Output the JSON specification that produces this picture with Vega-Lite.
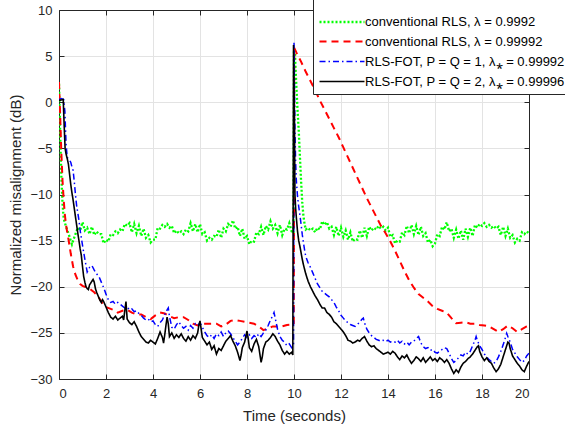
{
"$schema":"https://vega.github.io/schema/vega-lite/v6.json",
"width":470,"height":369,
"autosize":{"type":"none"},
"padding":{"left":59,"top":10,"right":36,"bottom":52},
"background":"white",
"config":{"font":"Liberation Sans","view":{"stroke":null},
"axis":{"domainColor":"#262626","tickColor":"#262626","labelColor":"#262626","titleColor":"#262626","labelFontSize":13,"titleFontSize":15,"titleFontWeight":"normal","gridColor":"#e3e3e3","tickSize":-5,"domainWidth":1,"tickWidth":1}},
"data":{"values":[
{"s":"g","t":0,"v":2.0},{"s":"g","t":0.03,"v":-1},{"s":"g","t":0.06,"v":-4.5},{"s":"g","t":0.1,"v":-8.0},{"s":"g","t":0.15,"v":-11.0},{"s":"g","t":0.2,"v":-12.6},{"s":"g","t":0.3,"v":-13.5},{"s":"g","t":0.4,"v":-14.2},{"s":"g","t":0.5,"v":-15.0},{"s":"g","t":0.55,"v":-15.4},{"s":"g","t":0.6,"v":-15.0},{"s":"g","t":0.7,"v":-14.3},{"s":"g","t":0.8,"v":-13.6},{"s":"g","t":0.9,"v":-13.9},
{"s":"g","t":1.0,"v":-13.0},{"s":"g","t":1.1,"v":-13.9},{"s":"g","t":1.2,"v":-13.6},{"s":"g","t":1.3,"v":-14.3},{"s":"g","t":1.4,"v":-13.5},{"s":"g","t":1.5,"v":-14.4},{"s":"g","t":1.6,"v":-14.0},{"s":"g","t":1.7,"v":-14.3},{"s":"g","t":1.8,"v":-14.3},{"s":"g","t":1.9,"v":-15.3},
{"s":"g","t":2.0,"v":-14.9},{"s":"g","t":2.1,"v":-15.1},{"s":"g","t":2.2,"v":-14.3},{"s":"g","t":2.3,"v":-14.4},{"s":"g","t":2.4,"v":-14.0},{"s":"g","t":2.5,"v":-14.2},{"s":"g","t":2.6,"v":-13.8},{"s":"g","t":2.7,"v":-14.0},{"s":"g","t":2.8,"v":-13.2},{"s":"g","t":2.9,"v":-13.4},
{"s":"g","t":3.0,"v":-13.1},{"s":"g","t":3.1,"v":-14.1},{"s":"g","t":3.2,"v":-13.2},{"s":"g","t":3.3,"v":-14.2},{"s":"g","t":3.4,"v":-13.4},{"s":"g","t":3.5,"v":-14.5},{"s":"g","t":3.6,"v":-13.7},{"s":"g","t":3.7,"v":-14.7},{"s":"g","t":3.8,"v":-14.4},{"s":"g","t":3.9,"v":-15.2},
{"s":"g","t":4.0,"v":-14.9},{"s":"g","t":4.1,"v":-14.9},{"s":"g","t":4.2,"v":-13.6},{"s":"g","t":4.3,"v":-13.7},{"s":"g","t":4.4,"v":-13.3},{"s":"g","t":4.5,"v":-13.5},{"s":"g","t":4.6,"v":-13.2},{"s":"g","t":4.7,"v":-13.6},{"s":"g","t":4.8,"v":-13.4},{"s":"g","t":4.9,"v":-14.2},
{"s":"g","t":5.0,"v":-13.9},{"s":"g","t":5.1,"v":-14.2},{"s":"g","t":5.2,"v":-14.0},{"s":"g","t":5.3,"v":-14.3},{"s":"g","t":5.4,"v":-13.8},{"s":"g","t":5.5,"v":-14.0},{"s":"g","t":5.6,"v":-13.1},{"s":"g","t":5.7,"v":-14.0},{"s":"g","t":5.8,"v":-13.2},{"s":"g","t":5.9,"v":-14.1},
{"s":"g","t":6.0,"v":-13.2},{"s":"g","t":6.1,"v":-14.3},{"s":"g","t":6.2,"v":-14.1},{"s":"g","t":6.3,"v":-15.0},{"s":"g","t":6.4,"v":-14.7},{"s":"g","t":6.5,"v":-14.9},{"s":"g","t":6.6,"v":-14.5},{"s":"g","t":6.7,"v":-14.6},{"s":"g","t":6.8,"v":-13.8},{"s":"g","t":6.9,"v":-14.7},
{"s":"g","t":7.0,"v":-13.7},{"s":"g","t":7.1,"v":-14.0},{"s":"g","t":7.2,"v":-13.2},{"s":"g","t":7.3,"v":-13.5},{"s":"g","t":7.4,"v":-12.8},{"s":"g","t":7.5,"v":-13.7},{"s":"g","t":7.6,"v":-13.5},{"s":"g","t":7.7,"v":-14.5},{"s":"g","t":7.8,"v":-13.7},{"s":"g","t":7.9,"v":-14.8},
{"s":"g","t":8.0,"v":-14.5},{"s":"g","t":8.1,"v":-15.4},{"s":"g","t":8.2,"v":-15.0},{"s":"g","t":8.3,"v":-15.1},{"s":"g","t":8.4,"v":-14.1},{"s":"g","t":8.5,"v":-14.3},{"s":"g","t":8.6,"v":-13.5},{"s":"g","t":8.7,"v":-14.4},{"s":"g","t":8.8,"v":-13.4},{"s":"g","t":8.9,"v":-13.8},
{"s":"g","t":9.0,"v":-12.9},{"s":"g","t":9.1,"v":-13.7},{"s":"g","t":9.2,"v":-13.3},{"s":"g","t":9.3,"v":-14.2},{"s":"g","t":9.4,"v":-13.3},{"s":"g","t":9.5,"v":-14.4},{"s":"g","t":9.6,"v":-13.7},{"s":"g","t":9.7,"v":-13.8},{"s":"g","t":9.8,"v":-13.1},{"s":"g","t":9.9,"v":-14.0},
{"s":"g","t":9.98,"v":-14.2},{"s":"g","t":10.0,"v":5.7},{"s":"g","t":10.04,"v":5.5},{"s":"g","t":10.06,"v":4.0},{"s":"g","t":10.1,"v":1.8},{"s":"g","t":10.15,"v":-0.8},{"s":"g","t":10.2,"v":-3.0},{"s":"g","t":10.25,"v":-5.8},{"s":"g","t":10.3,"v":-8.5},{"s":"g","t":10.35,"v":-10.8},{"s":"g","t":10.4,"v":-12.3},{"s":"g","t":10.45,"v":-13.2},{"s":"g","t":10.5,"v":-13.8},
{"s":"g","t":10.6,"v":-13.6},{"s":"g","t":10.7,"v":-13.9},{"s":"g","t":10.8,"v":-13.7},{"s":"g","t":10.9,"v":-14.1},{"s":"g","t":11.0,"v":-13.6},{"s":"g","t":11.1,"v":-13.8},{"s":"g","t":11.2,"v":-12.9},{"s":"g","t":11.3,"v":-13.3},{"s":"g","t":11.4,"v":-13.0},{"s":"g","t":11.5,"v":-13.7},
{"s":"g","t":11.6,"v":-13.5},{"s":"g","t":11.7,"v":-14.4},{"s":"g","t":11.8,"v":-13.5},{"s":"g","t":11.9,"v":-14.5},{"s":"g","t":12.0,"v":-13.6},{"s":"g","t":12.1,"v":-14.6},{"s":"g","t":12.2,"v":-13.9},{"s":"g","t":12.3,"v":-14.9},{"s":"g","t":12.4,"v":-14.1},{"s":"g","t":12.5,"v":-15.1},
{"s":"g","t":12.6,"v":-14.8},{"s":"g","t":12.7,"v":-14.9},{"s":"g","t":12.8,"v":-13.9},{"s":"g","t":12.9,"v":-14.7},{"s":"g","t":13.0,"v":-13.6},{"s":"g","t":13.1,"v":-14.5},{"s":"g","t":13.2,"v":-13.5},{"s":"g","t":13.3,"v":-13.9},{"s":"g","t":13.4,"v":-13.6},{"s":"g","t":13.5,"v":-13.8},
{"s":"g","t":13.6,"v":-13.4},{"s":"g","t":13.7,"v":-13.7},{"s":"g","t":13.8,"v":-13.5},{"s":"g","t":13.9,"v":-13.9},{"s":"g","t":14.0,"v":-13.6},{"s":"g","t":14.1,"v":-14.6},{"s":"g","t":14.2,"v":-14.4},{"s":"g","t":14.3,"v":-15.3},{"s":"g","t":14.4,"v":-15.0},{"s":"g","t":14.5,"v":-15.1},
{"s":"g","t":14.6,"v":-14.1},{"s":"g","t":14.7,"v":-14.4},{"s":"g","t":14.8,"v":-13.4},{"s":"g","t":14.9,"v":-14.2},{"s":"g","t":15.0,"v":-13.3},{"s":"g","t":15.1,"v":-14.3},{"s":"g","t":15.2,"v":-13.4},{"s":"g","t":15.3,"v":-14.4},{"s":"g","t":15.4,"v":-13.5},{"s":"g","t":15.5,"v":-14.5},
{"s":"g","t":15.6,"v":-14.2},{"s":"g","t":15.7,"v":-15.2},{"s":"g","t":15.8,"v":-14.9},{"s":"g","t":15.9,"v":-15.6},{"s":"g","t":16.0,"v":-15.3},{"s":"g","t":16.1,"v":-14.3},{"s":"g","t":16.2,"v":-14.5},{"s":"g","t":16.3,"v":-13.5},{"s":"g","t":16.4,"v":-13.8},{"s":"g","t":16.5,"v":-13.0},
{"s":"g","t":16.6,"v":-14.0},{"s":"g","t":16.7,"v":-13.7},{"s":"g","t":16.8,"v":-14.7},{"s":"g","t":16.9,"v":-13.8},{"s":"g","t":17.0,"v":-14.8},{"s":"g","t":17.1,"v":-13.9},{"s":"g","t":17.2,"v":-14.9},{"s":"g","t":17.3,"v":-13.7},{"s":"g","t":17.4,"v":-14.6},{"s":"g","t":17.5,"v":-13.6},
{"s":"g","t":17.6,"v":-14.5},{"s":"g","t":17.7,"v":-13.3},{"s":"g","t":17.8,"v":-13.6},{"s":"g","t":17.9,"v":-13.2},{"s":"g","t":18.0,"v":-13.4},{"s":"g","t":18.1,"v":-13.1},{"s":"g","t":18.2,"v":-13.5},{"s":"g","t":18.3,"v":-13.3},{"s":"g","t":18.4,"v":-13.6},{"s":"g","t":18.5,"v":-13.4},
{"s":"g","t":18.6,"v":-13.7},{"s":"g","t":18.7,"v":-13.5},{"s":"g","t":18.8,"v":-14.4},{"s":"g","t":18.9,"v":-13.5},{"s":"g","t":19.0,"v":-14.5},{"s":"g","t":19.1,"v":-13.7},{"s":"g","t":19.2,"v":-14.7},{"s":"g","t":19.3,"v":-14.4},{"s":"g","t":19.4,"v":-15.2},{"s":"g","t":19.5,"v":-14.8},
{"s":"g","t":19.6,"v":-15.0},{"s":"g","t":19.7,"v":-14.1},{"s":"g","t":19.8,"v":-14.3},{"s":"g","t":19.9,"v":-14.0},{"s":"g","t":20.0,"v":-14.2},
{"s":"r","t":0,"v":2.2},{"s":"r","t":0.05,"v":-1.5},{"s":"r","t":0.1,"v":-5.5},{"s":"r","t":0.15,"v":-8.5},{"s":"r","t":0.2,"v":-10.6},{"s":"r","t":0.25,"v":-12.2},{"s":"r","t":0.3,"v":-13.3},{"s":"r","t":0.35,"v":-14.1},{"s":"r","t":0.4,"v":-14.8},{"s":"r","t":0.5,"v":-16.4},{"s":"r","t":0.6,"v":-17.8},{"s":"r","t":0.7,"v":-18.7},{"s":"r","t":0.8,"v":-19.3},{"s":"r","t":0.9,"v":-19.7},
{"s":"r","t":1.0,"v":-19.9},{"s":"r","t":1.1,"v":-20.0},{"s":"r","t":1.2,"v":-20.1},{"s":"r","t":1.3,"v":-20.2},{"s":"r","t":1.4,"v":-20.4},{"s":"r","t":1.5,"v":-20.6},{"s":"r","t":1.6,"v":-20.9},{"s":"r","t":1.7,"v":-21.2},{"s":"r","t":1.8,"v":-21.6},{"s":"r","t":1.9,"v":-22.0},
{"s":"r","t":2.0,"v":-22.2},{"s":"r","t":2.2,"v":-22.4},{"s":"r","t":2.4,"v":-22.6},{"s":"r","t":2.5,"v":-22.8},{"s":"r","t":2.7,"v":-22.6},{"s":"r","t":2.9,"v":-22.5},{"s":"r","t":3.1,"v":-22.8},{"s":"r","t":3.3,"v":-23.0},{"s":"r","t":3.5,"v":-23.0},{"s":"r","t":3.7,"v":-23.3},{"s":"r","t":3.9,"v":-23.5},
{"s":"r","t":4.1,"v":-23.1},{"s":"r","t":4.3,"v":-22.8},{"s":"r","t":4.5,"v":-22.9},{"s":"r","t":4.7,"v":-23.2},{"s":"r","t":4.9,"v":-23.4},{"s":"r","t":5.1,"v":-23.3},{"s":"r","t":5.3,"v":-23.3},{"s":"r","t":5.5,"v":-23.6},{"s":"r","t":5.7,"v":-24.0},{"s":"r","t":5.9,"v":-24.2},
{"s":"r","t":6.1,"v":-24.0},{"s":"r","t":6.3,"v":-24.0},{"s":"r","t":6.5,"v":-24.0},{"s":"r","t":6.7,"v":-24.0},{"s":"r","t":6.9,"v":-24.3},{"s":"r","t":7.1,"v":-24.1},{"s":"r","t":7.3,"v":-23.7},{"s":"r","t":7.5,"v":-23.6},{"s":"r","t":7.7,"v":-23.7},{"s":"r","t":7.9,"v":-23.8},
{"s":"r","t":8.1,"v":-23.9},{"s":"r","t":8.3,"v":-24.0},{"s":"r","t":8.5,"v":-24.3},{"s":"r","t":8.7,"v":-24.7},{"s":"r","t":8.9,"v":-24.5},{"s":"r","t":9.1,"v":-24.3},{"s":"r","t":9.3,"v":-24.3},{"s":"r","t":9.5,"v":-24.3},{"s":"r","t":9.7,"v":-24.15},{"s":"r","t":9.99,"v":-24.1},
{"s":"r","t":10.01,"v":5.9},{"s":"r","t":10.1,"v":5.4},{"s":"r","t":10.3,"v":4.4},{"s":"r","t":10.5,"v":3.3},{"s":"r","t":10.7,"v":2.3},{"s":"r","t":10.9,"v":1.3},{"s":"r","t":11.1,"v":0.2},{"s":"r","t":11.3,"v":-0.8},{"s":"r","t":11.5,"v":-1.8},{"s":"r","t":11.7,"v":-2.8},{"s":"r","t":11.9,"v":-3.8},
{"s":"r","t":12.1,"v":-4.9},{"s":"r","t":12.3,"v":-6.0},{"s":"r","t":12.5,"v":-7.1},{"s":"r","t":12.7,"v":-8.2},{"s":"r","t":12.9,"v":-9.3},{"s":"r","t":13.1,"v":-10.4},{"s":"r","t":13.3,"v":-11.4},{"s":"r","t":13.5,"v":-12.4},{"s":"r","t":13.7,"v":-13.4},{"s":"r","t":13.9,"v":-14.2},
{"s":"r","t":14.1,"v":-15.1},{"s":"r","t":14.3,"v":-16.1},{"s":"r","t":14.5,"v":-17.2},{"s":"r","t":14.7,"v":-18.3},{"s":"r","t":14.9,"v":-19.3},{"s":"r","t":15.1,"v":-20.1},{"s":"r","t":15.3,"v":-20.8},{"s":"r","t":15.5,"v":-21.2},{"s":"r","t":15.7,"v":-21.6},{"s":"r","t":15.9,"v":-22.1},
{"s":"r","t":16.1,"v":-22.4},{"s":"r","t":16.3,"v":-22.6},{"s":"r","t":16.5,"v":-22.8},{"s":"r","t":16.7,"v":-23.4},{"s":"r","t":16.9,"v":-23.95},{"s":"r","t":17.1,"v":-23.9},{"s":"r","t":17.3,"v":-23.85},{"s":"r","t":17.5,"v":-24.0},{"s":"r","t":17.7,"v":-24.0},{"s":"r","t":17.9,"v":-24.15},
{"s":"r","t":18.1,"v":-24.2},{"s":"r","t":18.3,"v":-24.3},{"s":"r","t":18.5,"v":-24.6},{"s":"r","t":18.7,"v":-24.9},{"s":"r","t":18.9,"v":-24.6},{"s":"r","t":19.1,"v":-24.2},{"s":"r","t":19.3,"v":-24.5},{"s":"r","t":19.5,"v":-24.9},{"s":"r","t":19.7,"v":-24.6},{"s":"r","t":19.9,"v":-24.3},{"s":"r","t":20.0,"v":-24.2},
{"s":"b","t":0,"v":0.3},{"s":"b","t":0.1,"v":0.4},{"s":"b","t":0.2,"v":0.3},{"s":"b","t":0.25,"v":-1.0},{"s":"b","t":0.3,"v":-4.5},{"s":"b","t":0.35,"v":-6.0},{"s":"b","t":0.4,"v":-6.1},{"s":"b","t":0.45,"v":-6.3},{"s":"b","t":0.5,"v":-6.5},{"s":"b","t":0.55,"v":-7.0},{"s":"b","t":0.6,"v":-7.4},{"s":"b","t":0.65,"v":-8.6},{"s":"b","t":0.7,"v":-10.0},{"s":"b","t":0.75,"v":-11.2},{"s":"b","t":0.8,"v":-12.0},{"s":"b","t":0.85,"v":-12.8},{"s":"b","t":0.9,"v":-13.9},
{"s":"b","t":1.0,"v":-15.5},{"s":"b","t":1.1,"v":-17.0},{"s":"b","t":1.2,"v":-18.4},{"s":"b","t":1.3,"v":-17.9},{"s":"b","t":1.4,"v":-17.7},{"s":"b","t":1.5,"v":-18.2},{"s":"b","t":1.6,"v":-18.6},{"s":"b","t":1.7,"v":-18.9},{"s":"b","t":1.8,"v":-19.5},{"s":"b","t":1.9,"v":-20.1},
{"s":"b","t":2.0,"v":-20.8},{"s":"b","t":2.1,"v":-21.4},{"s":"b","t":2.2,"v":-21.7},{"s":"b","t":2.3,"v":-21.6},{"s":"b","t":2.4,"v":-21.9},{"s":"b","t":2.5,"v":-21.7},{"s":"b","t":2.6,"v":-21.9},{"s":"b","t":2.7,"v":-22.1},{"s":"b","t":2.8,"v":-22.3},{"s":"b","t":2.9,"v":-22.2},
{"s":"b","t":3.0,"v":-22.5},{"s":"b","t":3.1,"v":-22.4},{"s":"b","t":3.2,"v":-22.7},{"s":"b","t":3.3,"v":-22.6},{"s":"b","t":3.4,"v":-22.9},{"s":"b","t":3.5,"v":-23.1},{"s":"b","t":3.6,"v":-23.4},{"s":"b","t":3.7,"v":-23.6},{"s":"b","t":3.8,"v":-23.5},{"s":"b","t":3.9,"v":-23.8},
{"s":"b","t":4.0,"v":-23.7},{"s":"b","t":4.1,"v":-24.1},{"s":"b","t":4.2,"v":-24.3},{"s":"b","t":4.3,"v":-23.9},{"s":"b","t":4.4,"v":-23.6},{"s":"b","t":4.5,"v":-23.0},{"s":"b","t":4.6,"v":-22.5},{"s":"b","t":4.65,"v":-22.3},{"s":"b","t":4.7,"v":-23.2},{"s":"b","t":4.8,"v":-24.4},{"s":"b","t":4.9,"v":-24.6},
{"s":"b","t":5.0,"v":-24.1},{"s":"b","t":5.1,"v":-23.8},{"s":"b","t":5.2,"v":-24.2},{"s":"b","t":5.3,"v":-24.5},{"s":"b","t":5.4,"v":-24.3},{"s":"b","t":5.5,"v":-24.7},{"s":"b","t":5.6,"v":-24.2},{"s":"b","t":5.7,"v":-24.5},{"s":"b","t":5.8,"v":-24.0},{"s":"b","t":5.9,"v":-24.2},
{"s":"b","t":6.0,"v":-23.9},{"s":"b","t":6.1,"v":-24.4},{"s":"b","t":6.2,"v":-24.9},{"s":"b","t":6.3,"v":-25.3},{"s":"b","t":6.4,"v":-25.5},{"s":"b","t":6.5,"v":-25.2},{"s":"b","t":6.6,"v":-25.6},{"s":"b","t":6.7,"v":-25.1},{"s":"b","t":6.8,"v":-25.3},{"s":"b","t":6.9,"v":-24.9},
{"s":"b","t":7.0,"v":-25.4},{"s":"b","t":7.1,"v":-25.0},{"s":"b","t":7.2,"v":-24.8},{"s":"b","t":7.3,"v":-25.1},{"s":"b","t":7.4,"v":-25.5},{"s":"b","t":7.5,"v":-25.9},{"s":"b","t":7.6,"v":-26.3},{"s":"b","t":7.7,"v":-26.0},{"s":"b","t":7.8,"v":-25.6},{"s":"b","t":7.9,"v":-25.2},
{"s":"b","t":8.0,"v":-25.5},{"s":"b","t":8.1,"v":-25.2},{"s":"b","t":8.2,"v":-25.6},{"s":"b","t":8.3,"v":-25.3},{"s":"b","t":8.4,"v":-25.5},{"s":"b","t":8.5,"v":-25.1},{"s":"b","t":8.6,"v":-25.4},{"s":"b","t":8.7,"v":-25.0},{"s":"b","t":8.8,"v":-24.7},{"s":"b","t":8.9,"v":-24.2},
{"s":"b","t":9.0,"v":-23.6},{"s":"b","t":9.1,"v":-23.1},{"s":"b","t":9.15,"v":-22.8},{"s":"b","t":9.2,"v":-23.4},{"s":"b","t":9.3,"v":-24.6},{"s":"b","t":9.4,"v":-25.4},{"s":"b","t":9.5,"v":-25.8},{"s":"b","t":9.6,"v":-26.0},{"s":"b","t":9.7,"v":-26.4},{"s":"b","t":9.8,"v":-26.2},{"s":"b","t":9.9,"v":-26.6},{"s":"b","t":9.98,"v":-26.3},
{"s":"b","t":10.0,"v":6.45},{"s":"b","t":10.02,"v":2.0},{"s":"b","t":10.04,"v":-3.0},{"s":"b","t":10.07,"v":-6.5},{"s":"b","t":10.1,"v":-8.5},{"s":"b","t":10.15,"v":-10.2},{"s":"b","t":10.2,"v":-11.3},{"s":"b","t":10.25,"v":-12.2},{"s":"b","t":10.3,"v":-13.2},{"s":"b","t":10.35,"v":-14.3},{"s":"b","t":10.4,"v":-15.2},{"s":"b","t":10.45,"v":-16.0},{"s":"b","t":10.5,"v":-16.7},
{"s":"b","t":10.6,"v":-17.4},{"s":"b","t":10.7,"v":-17.9},{"s":"b","t":10.8,"v":-18.5},{"s":"b","t":10.9,"v":-19.1},{"s":"b","t":11.0,"v":-19.7},{"s":"b","t":11.1,"v":-20.1},{"s":"b","t":11.2,"v":-20.5},{"s":"b","t":11.3,"v":-20.7},{"s":"b","t":11.4,"v":-20.9},{"s":"b","t":11.5,"v":-21.1},
{"s":"b","t":11.6,"v":-21.4},{"s":"b","t":11.7,"v":-21.7},{"s":"b","t":11.8,"v":-22.2},{"s":"b","t":11.9,"v":-22.6},{"s":"b","t":12.0,"v":-23.1},{"s":"b","t":12.1,"v":-23.4},{"s":"b","t":12.2,"v":-23.7},{"s":"b","t":12.3,"v":-23.9},{"s":"b","t":12.4,"v":-24.1},{"s":"b","t":12.5,"v":-24.2},
{"s":"b","t":12.6,"v":-24.3},{"s":"b","t":12.7,"v":-24.1},{"s":"b","t":12.8,"v":-23.8},{"s":"b","t":12.9,"v":-23.5},{"s":"b","t":12.95,"v":-23.4},{"s":"b","t":13.0,"v":-23.9},{"s":"b","t":13.1,"v":-24.6},{"s":"b","t":13.2,"v":-25.0},{"s":"b","t":13.3,"v":-25.3},{"s":"b","t":13.4,"v":-25.5},{"s":"b","t":13.5,"v":-25.7},
{"s":"b","t":13.6,"v":-25.8},{"s":"b","t":13.7,"v":-25.9},{"s":"b","t":13.8,"v":-25.8},{"s":"b","t":13.9,"v":-25.95},{"s":"b","t":14.0,"v":-25.8},{"s":"b","t":14.1,"v":-26.0},{"s":"b","t":14.2,"v":-25.9},{"s":"b","t":14.3,"v":-26.0},{"s":"b","t":14.4,"v":-25.8},{"s":"b","t":14.5,"v":-26.1},
{"s":"b","t":14.6,"v":-25.9},{"s":"b","t":14.7,"v":-26.2},{"s":"b","t":14.8,"v":-26.0},{"s":"b","t":14.9,"v":-26.3},{"s":"b","t":15.0,"v":-26.0},{"s":"b","t":15.1,"v":-25.9},{"s":"b","t":15.2,"v":-25.6},{"s":"b","t":15.3,"v":-25.4},{"s":"b","t":15.4,"v":-26.1},{"s":"b","t":15.5,"v":-26.5},
{"s":"b","t":15.6,"v":-26.7},{"s":"b","t":15.7,"v":-26.6},{"s":"b","t":15.8,"v":-26.9},{"s":"b","t":15.9,"v":-26.8},{"s":"b","t":16.0,"v":-27.1},{"s":"b","t":16.1,"v":-27.2},{"s":"b","t":16.2,"v":-27.0},{"s":"b","t":16.3,"v":-26.8},{"s":"b","t":16.4,"v":-26.6},{"s":"b","t":16.5,"v":-26.7},
{"s":"b","t":16.6,"v":-27.2},{"s":"b","t":16.7,"v":-27.8},{"s":"b","t":16.8,"v":-28.2},{"s":"b","t":16.9,"v":-28.0},{"s":"b","t":17.0,"v":-27.7},{"s":"b","t":17.1,"v":-27.4},{"s":"b","t":17.2,"v":-27.5},{"s":"b","t":17.3,"v":-27.1},{"s":"b","t":17.4,"v":-27.3},{"s":"b","t":17.5,"v":-27.0},
{"s":"b","t":17.6,"v":-26.4},{"s":"b","t":17.7,"v":-25.8},{"s":"b","t":17.75,"v":-25.4},{"s":"b","t":17.8,"v":-25.8},{"s":"b","t":17.9,"v":-26.4},{"s":"b","t":18.0,"v":-26.8},{"s":"b","t":18.1,"v":-27.3},{"s":"b","t":18.2,"v":-27.6},{"s":"b","t":18.3,"v":-27.9},{"s":"b","t":18.4,"v":-28.1},
{"s":"b","t":18.5,"v":-28.3},{"s":"b","t":18.6,"v":-28.1},{"s":"b","t":18.7,"v":-27.6},{"s":"b","t":18.8,"v":-27.0},{"s":"b","t":18.9,"v":-26.3},{"s":"b","t":19.0,"v":-25.5},{"s":"b","t":19.05,"v":-25.05},{"s":"b","t":19.1,"v":-25.4},{"s":"b","t":19.2,"v":-26.0},{"s":"b","t":19.3,"v":-26.8},
{"s":"b","t":19.4,"v":-27.2},{"s":"b","t":19.5,"v":-27.6},{"s":"b","t":19.6,"v":-27.9},{"s":"b","t":19.7,"v":-28.2},{"s":"b","t":19.8,"v":-28.0},{"s":"b","t":19.9,"v":-27.5},{"s":"b","t":20.0,"v":-27.2},
{"s":"k","t":0,"v":0.2},{"s":"k","t":0.1,"v":0.25},{"s":"k","t":0.18,"v":0.3},{"s":"k","t":0.22,"v":-2.5},{"s":"k","t":0.26,"v":-5.0},{"s":"k","t":0.3,"v":-5.6},{"s":"k","t":0.35,"v":-6.1},{"s":"k","t":0.4,"v":-6.7},{"s":"k","t":0.45,"v":-7.8},{"s":"k","t":0.5,"v":-8.9},{"s":"k","t":0.55,"v":-9.8},{"s":"k","t":0.6,"v":-10.6},{"s":"k","t":0.65,"v":-11.5},{"s":"k","t":0.7,"v":-12.4},{"s":"k","t":0.75,"v":-13.3},{"s":"k","t":0.8,"v":-14.2},{"s":"k","t":0.85,"v":-15.0},{"s":"k","t":0.9,"v":-15.9},{"s":"k","t":0.95,"v":-16.6},
{"s":"k","t":1.0,"v":-17.8},{"s":"k","t":1.05,"v":-18.9},{"s":"k","t":1.1,"v":-19.5},{"s":"k","t":1.15,"v":-20.0},{"s":"k","t":1.2,"v":-20.2},{"s":"k","t":1.25,"v":-20.3},{"s":"k","t":1.3,"v":-19.8},{"s":"k","t":1.35,"v":-19.6},{"s":"k","t":1.4,"v":-19.4},{"s":"k","t":1.45,"v":-19.2},{"s":"k","t":1.5,"v":-19.5},{"s":"k","t":1.55,"v":-20.2},{"s":"k","t":1.6,"v":-20.6},{"s":"k","t":1.7,"v":-21.2},{"s":"k","t":1.75,"v":-21.5},{"s":"k","t":1.8,"v":-21.7},{"s":"k","t":1.85,"v":-21.4},{"s":"k","t":1.9,"v":-21.6},
{"s":"k","t":2.0,"v":-22.2},{"s":"k","t":2.1,"v":-22.8},{"s":"k","t":2.2,"v":-23.3},{"s":"k","t":2.3,"v":-23.5},{"s":"k","t":2.4,"v":-23.2},{"s":"k","t":2.5,"v":-23.6},{"s":"k","t":2.6,"v":-23.4},{"s":"k","t":2.7,"v":-23.2},{"s":"k","t":2.75,"v":-23.6},{"s":"k","t":2.8,"v":-22.6},{"s":"k","t":2.85,"v":-21.6},{"s":"k","t":2.9,"v":-23.5},
{"s":"k","t":3.0,"v":-23.9},{"s":"k","t":3.1,"v":-24.1},{"s":"k","t":3.2,"v":-23.8},{"s":"k","t":3.3,"v":-24.3},{"s":"k","t":3.4,"v":-24.9},{"s":"k","t":3.5,"v":-25.4},{"s":"k","t":3.6,"v":-25.7},{"s":"k","t":3.7,"v":-26.0},{"s":"k","t":3.8,"v":-26.1},{"s":"k","t":3.9,"v":-25.8},
{"s":"k","t":4.0,"v":-26.0},{"s":"k","t":4.1,"v":-26.2},{"s":"k","t":4.2,"v":-25.6},{"s":"k","t":4.3,"v":-24.9},{"s":"k","t":4.4,"v":-25.5},{"s":"k","t":4.45,"v":-26.1},{"s":"k","t":4.5,"v":-25.2},{"s":"k","t":4.55,"v":-24.2},{"s":"k","t":4.6,"v":-23.3},{"s":"k","t":4.65,"v":-24.0},{"s":"k","t":4.7,"v":-25.4},{"s":"k","t":4.8,"v":-25.0},{"s":"k","t":4.9,"v":-25.6},
{"s":"k","t":5.0,"v":-25.2},{"s":"k","t":5.1,"v":-25.5},{"s":"k","t":5.2,"v":-25.1},{"s":"k","t":5.3,"v":-25.6},{"s":"k","t":5.4,"v":-25.9},{"s":"k","t":5.5,"v":-25.4},{"s":"k","t":5.6,"v":-25.8},{"s":"k","t":5.7,"v":-25.3},{"s":"k","t":5.8,"v":-25.6},{"s":"k","t":5.9,"v":-25.0},{"s":"k","t":5.95,"v":-24.2},
{"s":"k","t":6.0,"v":-23.7},{"s":"k","t":6.05,"v":-24.6},{"s":"k","t":6.1,"v":-25.5},{"s":"k","t":6.2,"v":-25.9},{"s":"k","t":6.3,"v":-26.3},{"s":"k","t":6.4,"v":-26.0},{"s":"k","t":6.5,"v":-26.8},{"s":"k","t":6.6,"v":-26.4},{"s":"k","t":6.7,"v":-27.3},{"s":"k","t":6.8,"v":-26.7},{"s":"k","t":6.9,"v":-26.9},
{"s":"k","t":7.0,"v":-26.4},{"s":"k","t":7.1,"v":-25.9},{"s":"k","t":7.2,"v":-25.6},{"s":"k","t":7.3,"v":-25.3},{"s":"k","t":7.4,"v":-25.9},{"s":"k","t":7.5,"v":-26.4},{"s":"k","t":7.6,"v":-27.1},{"s":"k","t":7.7,"v":-28.0},{"s":"k","t":7.75,"v":-27.4},{"s":"k","t":7.8,"v":-26.6},{"s":"k","t":7.9,"v":-26.0},
{"s":"k","t":8.0,"v":-24.8},{"s":"k","t":8.05,"v":-25.6},{"s":"k","t":8.1,"v":-26.6},{"s":"k","t":8.2,"v":-27.0},{"s":"k","t":8.3,"v":-26.2},{"s":"k","t":8.4,"v":-25.7},{"s":"k","t":8.5,"v":-26.5},{"s":"k","t":8.6,"v":-28.2},{"s":"k","t":8.65,"v":-27.6},{"s":"k","t":8.7,"v":-26.7},{"s":"k","t":8.8,"v":-26.0},{"s":"k","t":8.9,"v":-25.8},
{"s":"k","t":9.0,"v":-25.5},{"s":"k","t":9.1,"v":-25.1},{"s":"k","t":9.2,"v":-25.4},{"s":"k","t":9.3,"v":-25.9},{"s":"k","t":9.4,"v":-26.3},{"s":"k","t":9.5,"v":-26.9},{"s":"k","t":9.6,"v":-27.3},{"s":"k","t":9.7,"v":-27.0},{"s":"k","t":9.8,"v":-27.3},{"s":"k","t":9.9,"v":-27.1},{"s":"k","t":9.95,"v":-27.4},
{"s":"k","t":9.98,"v":6.2},{"s":"k","t":10.02,"v":-2.0},{"s":"k","t":10.04,"v":-10.0},{"s":"k","t":10.07,"v":-11.5},{"s":"k","t":10.1,"v":-12.5},{"s":"k","t":10.15,"v":-14.0},{"s":"k","t":10.2,"v":-15.0},{"s":"k","t":10.25,"v":-15.6},{"s":"k","t":10.3,"v":-16.3},{"s":"k","t":10.35,"v":-17.0},{"s":"k","t":10.4,"v":-17.6},{"s":"k","t":10.5,"v":-18.6},
{"s":"k","t":10.6,"v":-19.4},{"s":"k","t":10.7,"v":-20.0},{"s":"k","t":10.8,"v":-20.5},{"s":"k","t":10.9,"v":-21.0},{"s":"k","t":11.0,"v":-21.4},{"s":"k","t":11.1,"v":-21.9},{"s":"k","t":11.2,"v":-22.3},{"s":"k","t":11.3,"v":-22.3},{"s":"k","t":11.4,"v":-22.8},{"s":"k","t":11.5,"v":-23.0},
{"s":"k","t":11.6,"v":-23.3},{"s":"k","t":11.7,"v":-23.8},{"s":"k","t":11.8,"v":-24.0},{"s":"k","t":11.9,"v":-24.3},{"s":"k","t":12.0,"v":-24.6},{"s":"k","t":12.1,"v":-24.9},{"s":"k","t":12.2,"v":-25.3},{"s":"k","t":12.3,"v":-25.8},{"s":"k","t":12.4,"v":-25.9},{"s":"k","t":12.5,"v":-26.1},
{"s":"k","t":12.6,"v":-26.0},{"s":"k","t":12.7,"v":-25.8},{"s":"k","t":12.8,"v":-25.9},{"s":"k","t":12.9,"v":-25.6},{"s":"k","t":13.0,"v":-25.4},{"s":"k","t":13.1,"v":-25.9},{"s":"k","t":13.2,"v":-26.3},{"s":"k","t":13.3,"v":-26.5},{"s":"k","t":13.4,"v":-26.4},{"s":"k","t":13.5,"v":-26.7},
{"s":"k","t":13.6,"v":-26.9},{"s":"k","t":13.7,"v":-27.1},{"s":"k","t":13.8,"v":-27.3},{"s":"k","t":13.9,"v":-27.2},{"s":"k","t":14.0,"v":-27.1},{"s":"k","t":14.1,"v":-27.3},{"s":"k","t":14.2,"v":-27.0},{"s":"k","t":14.3,"v":-27.2},{"s":"k","t":14.4,"v":-27.6},{"s":"k","t":14.5,"v":-27.9},
{"s":"k","t":14.6,"v":-27.5},{"s":"k","t":14.7,"v":-27.7},{"s":"k","t":14.8,"v":-27.4},{"s":"k","t":14.9,"v":-27.9},{"s":"k","t":15.0,"v":-28.3},{"s":"k","t":15.1,"v":-28.0},{"s":"k","t":15.2,"v":-27.6},{"s":"k","t":15.3,"v":-27.8},{"s":"k","t":15.4,"v":-28.1},{"s":"k","t":15.5,"v":-27.7},
{"s":"k","t":15.6,"v":-28.2},{"s":"k","t":15.7,"v":-27.9},{"s":"k","t":15.8,"v":-27.6},{"s":"k","t":15.9,"v":-28.0},{"s":"k","t":16.0,"v":-27.8},{"s":"k","t":16.1,"v":-28.1},{"s":"k","t":16.2,"v":-27.7},{"s":"k","t":16.3,"v":-27.9},{"s":"k","t":16.4,"v":-28.2},{"s":"k","t":16.5,"v":-27.9},
{"s":"k","t":16.6,"v":-28.3},{"s":"k","t":16.7,"v":-28.9},{"s":"k","t":16.8,"v":-29.4},{"s":"k","t":16.9,"v":-29.0},{"s":"k","t":17.0,"v":-29.3},{"s":"k","t":17.1,"v":-28.7},{"s":"k","t":17.2,"v":-28.3},{"s":"k","t":17.3,"v":-28.1},{"s":"k","t":17.4,"v":-27.8},{"s":"k","t":17.5,"v":-27.6},
{"s":"k","t":17.6,"v":-27.3},{"s":"k","t":17.7,"v":-26.9},{"s":"k","t":17.8,"v":-26.5},{"s":"k","t":17.85,"v":-26.4},{"s":"k","t":17.9,"v":-27.0},{"s":"k","t":18.0,"v":-27.6},{"s":"k","t":18.1,"v":-28.0},{"s":"k","t":18.2,"v":-27.7},{"s":"k","t":18.3,"v":-28.1},{"s":"k","t":18.4,"v":-28.3},
{"s":"k","t":18.5,"v":-28.8},{"s":"k","t":18.6,"v":-29.2},{"s":"k","t":18.7,"v":-28.9},{"s":"k","t":18.8,"v":-28.4},{"s":"k","t":18.9,"v":-27.6},{"s":"k","t":19.0,"v":-26.8},{"s":"k","t":19.1,"v":-26.0},{"s":"k","t":19.15,"v":-26.1},{"s":"k","t":19.2,"v":-26.7},{"s":"k","t":19.3,"v":-27.5},
{"s":"k","t":19.4,"v":-27.9},{"s":"k","t":19.5,"v":-28.3},{"s":"k","t":19.6,"v":-28.6},{"s":"k","t":19.7,"v":-29.0},{"s":"k","t":19.8,"v":-29.2},{"s":"k","t":19.9,"v":-28.6},{"s":"k","t":20.0,"v":-28.1}
]},
"layer":[
{"mark":{"type":"line","clip":true},
"encoding":{
"x":{"field":"t","type":"quantitative","scale":{"domain":[0,20],"nice":false},"axis":{"orient":"bottom","title":"Time (seconds)","values":[0,2,4,6,8,10,12,14,16,18,20],"grid":true,"labelPadding":13,"titlePadding":8}},
"y":{"field":"v","type":"quantitative","scale":{"domain":[-30,10],"nice":false},"axis":{"orient":"left","title":"Normalized misalignment (dB)","values":[-30,-25,-20,-15,-10,-5,0,5,10],"grid":true,"labelPadding":12,"titlePadding":6}},
"strokeWidth":{"field":"s","type":"nominal","scale":{"type":"ordinal","domain":["g","r","b","k"],"range":[2.3,2,1.5,1.6]},"legend":null},
"color":{"field":"s","type":"nominal","sort":["g","r","b","k"],"scale":{"domain":["g","r","b","k"],"range":["#00ff00","#ff0000","#0000ff","#000000"]},
"legend":{"title":" ","titleFontSize":12,"titlePadding":2,"orient":"none","legendX":254,"legendY":-16,"symbolType":"M-3,0H3","symbolSize":225,"symbolOffset":15,"symbolStrokeWidth":2,"labelFontSize":13,"labelColor":"#000000","labelLimit":400,"labelOffset":14,"strokeColor":"#262626","fillColor":"white","padding":5,"rowPadding":4,
"labelExpr":"datum.value=='g'?'conventional RLS, λ = 0.9992':datum.value=='r'?'conventional RLS, λ = 0.99992':datum.value=='b'?'RLS-FOT, P = Q = 1, λ⁎ = 0.99992':'RLS-FOT, P = Q = 2, λ⁎ = 0.99996'"}},
"strokeDash":{"field":"s","type":"nominal","sort":["g","r","b","k"],"scale":{"domain":["g","r","b","k"],"range":[[2,2],[7,5],[6,3,1.5,3],[1,0]]},
"legend":{"title":" ","titleFontSize":12,"titlePadding":2,"orient":"none","legendX":254,"legendY":-16,"symbolType":"M-3,0H3","symbolSize":225,"symbolOffset":15,"symbolStrokeWidth":2,"labelFontSize":13,"labelColor":"#000000","labelLimit":400,"labelOffset":14,"strokeColor":"#262626","fillColor":"white","padding":5,"rowPadding":4,
"labelExpr":"datum.value=='g'?'conventional RLS, λ = 0.9992':datum.value=='r'?'conventional RLS, λ = 0.99992':datum.value=='b'?'RLS-FOT, P = Q = 1, λ⁎ = 0.99992':'RLS-FOT, P = Q = 2, λ⁎ = 0.99996'"}}
}},
{"mark":{"type":"point","opacity":0},
"encoding":{
"x":{"field":"t","type":"quantitative","scale":{"domain":[0,20],"nice":false},"axis":{"orient":"top","title":null,"labels":false,"grid":false,"values":[0,2,4,6,8,10,12,14,16,18,20]}},
"y":{"field":"v","type":"quantitative","scale":{"domain":[-30,10],"nice":false},"axis":{"orient":"right","title":null,"labels":false,"grid":false,"values":[-30,-25,-20,-15,-10,-5,0,5,10]}}
}}
],
"resolve":{"axis":{"x":"independent","y":"independent"}}
}
